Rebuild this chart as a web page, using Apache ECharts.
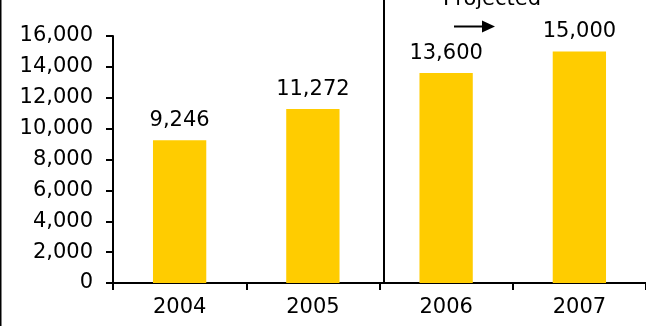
<!DOCTYPE html>
<html>
<head>
<meta charset="utf-8">
<style>
  html, body { margin: 0; padding: 0; background: #ffffff; }
  #chart { width: 646px; height: 326px; }
</style>
<script src="https://cdn.jsdelivr.net/npm/echarts@6/dist/echarts.min.js"></script>
</head>
<body>
<div id="chart"></div>
<script>
// Yearly totals; 2006 and 2007 are projections
const years = ['2004', '2005', '2006', '2007'];
const totals = [9246, 11272, 13600, 15000];
const yMin = 0;
const yMax = 16000;
const yStep = 2000;
const projectedLabel = 'Projected';

const FONT = '"DejaVu Sans", Verdana, sans-serif';
const fmt = v => Number(v).toLocaleString('en-US');

const chart = echarts.init(document.getElementById('chart'), null, { renderer: 'canvas' });

chart.setOption({
  animation: false,
  grid: { left: 113, right: -1, top: 36, bottom: 43, containLabel: false },
  xAxis: {
    type: 'category',
    data: years,
    boundaryGap: true,
    axisLine: { show: true, lineStyle: { color: '#000', width: 2 } },
    axisTick: { show: true, inside: false, length: 7, alignWithLabel: false, lineStyle: { color: '#000', width: 2 } },
    axisLabel: { color: '#000', fontFamily: FONT, fontSize: 21, margin: 14 },
    splitLine: { show: false }
  },
  yAxis: {
    type: 'value',
    min: yMin,
    max: yMax,
    interval: yStep,
    axisLine: { show: true, lineStyle: { color: '#000', width: 2 } },
    axisTick: { show: true, inside: false, length: 7, lineStyle: { color: '#000', width: 2 } },
    axisLabel: { color: '#000', fontFamily: FONT, fontSize: 21, margin: 20, formatter: fmt },
    splitLine: { show: false }
  },
  series: [{
    type: 'bar',
    data: totals,
    barWidth: '40%',
    itemStyle: { color: '#FFCC00' },
    label: {
      show: true,
      position: 'top',
      distance: 9,
      color: '#000',
      fontFamily: FONT,
      fontSize: 21,
      formatter: p => fmt(p.value)
    }
  }]
});

// Divider between actual and projected years, plus the "Projected" note with arrow
function drawDecorations() {
  const x05 = chart.convertToPixel({ xAxisIndex: 0 }, years[1]);
  const x06 = chart.convertToPixel({ xAxisIndex: 0 }, years[2]);
  const y0 = chart.convertToPixel({ yAxisIndex: 0 }, yMin);
  const divX = (x05 + x06) / 2 + 4.5;
  const h = chart.getHeight();

  chart.setOption({
    graphic: [
      {
        type: 'line', silent: true,
        shape: { x1: 0.75, y1: 0, x2: 0.75, y2: h },
        style: { stroke: '#000', lineWidth: 1.5 }
      },
      {
        type: 'line', silent: true,
        shape: { x1: divX, y1: 0, x2: divX, y2: y0 },
        style: { stroke: '#000', lineWidth: 2 }
      },
      {
        type: 'text', silent: true,
        x: divX + 108, y: -0.5,
        style: {
          text: projectedLabel, fill: '#000', font: '21px ' + FONT,
          align: 'center', verticalAlign: 'middle'
        }
      },
      {
        type: 'line', silent: true,
        shape: { x1: divX + 70, y1: 26.5, x2: divX + 100, y2: 26.5 },
        style: { stroke: '#000', lineWidth: 2 }
      },
      {
        type: 'polygon', silent: true,
        shape: { points: [[divX + 111, 26.5], [divX + 98, 20.5], [divX + 98, 32.5]] },
        style: { fill: '#000' }
      }
    ]
  });
}
drawDecorations();
</script>
</body>
</html>
